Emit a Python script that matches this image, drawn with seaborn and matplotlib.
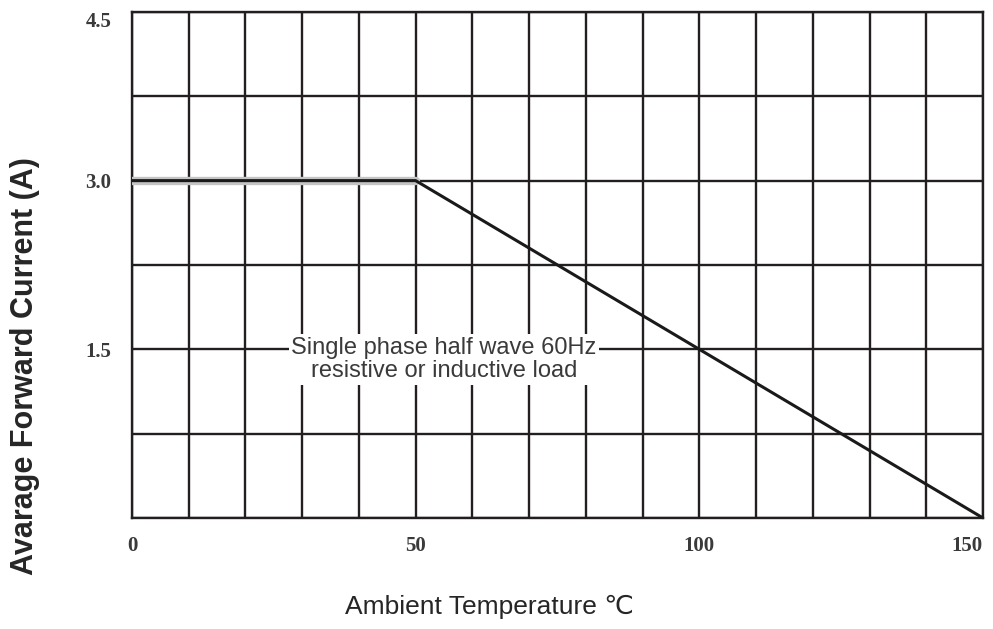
import matplotlib
matplotlib.use('Agg')
import matplotlib.pyplot as plt
import numpy as np
import seaborn as sns
from matplotlib.ticker import MultipleLocator, FixedLocator

# derating curve data
temps = [0, 50, 150]
current = [3.0, 3.0, 0.0]
xtick_vals = [0, 50, 100, 150]
xtick_labels = ['0', '50', '100', '150']
ytick_vals = [1.5, 3.0, 4.5]
ytick_labels = ['1.5', '3.0', '4.5']
note = 'Single phase half wave 60Hz\nresistive or inductive load'

sns.set_style('white')
plt.rcParams['font.family'] = ['Liberation Sans', 'DejaVu Sans']

fig = plt.figure(figsize=(9.93, 6.29), dpi=100)
ax = fig.add_axes([0.1329, 0.1765, 0.857, 0.8045])

grid_col = '#231f20'
# grey shadow on the flat part
sns.lineplot(x=temps[:2], y=current[:2], ax=ax, color='#c4c4c4', linewidth=6, zorder=3)
sns.lineplot(x=temps, y=current, ax=ax, color='#1a1a1a', linewidth=2.2, zorder=4)

ax.set_xlim(0, 150)
ax.set_ylim(0, 4.5)
ax.xaxis.set_major_locator(FixedLocator(xtick_vals))
ax.xaxis.set_minor_locator(MultipleLocator(10))
ax.yaxis.set_major_locator(FixedLocator(ytick_vals))
ax.yaxis.set_minor_locator(MultipleLocator(0.75))
ax.set_xticklabels(xtick_labels)
ax.set_yticklabels(ytick_labels)
ax.grid(True, which='both', color=grid_col, linewidth=1.7, zorder=1)
ax.set_axisbelow(True)
for s in ax.spines.values():
    s.set_visible(True)
    s.set_color(grid_col)
    s.set_linewidth(1.7)

ax.tick_params(which='both', length=0)
ax.tick_params(axis='x', pad=13)
ax.tick_params(axis='y', pad=15)
for lab in ax.get_xticklabels() + ax.get_yticklabels():
    lab.set_family(['Liberation Serif', 'DejaVu Serif'])
    lab.set_fontweight('bold')
    lab.set_fontsize(15)
    lab.set_color('#3a3a3a')
ax.get_xticklabels()[-1].set_horizontalalignment('right')
ax.get_xticklabels()[-1].set_x(155)
ax.get_yticklabels()[-1].set_verticalalignment('top')

ax.text(55.0, 1.41, note, ha='center', va='center', fontsize=17, color='#3a3a3a',
        linespacing=1.05, zorder=5,
        bbox=dict(facecolor='white', edgecolor='none', pad=2))

ax.set_ylabel('Avarage Forward Current (A)', fontsize=22, fontweight='bold')
ax.yaxis.set_label_coords(-0.108, 0.300)
ax.set_xlabel('Ambient Temperature ℃', fontsize=19)
ax.xaxis.set_label_coords(0.42, -0.152)

plt.savefig('out.png', dpi=100)
plt.close()
